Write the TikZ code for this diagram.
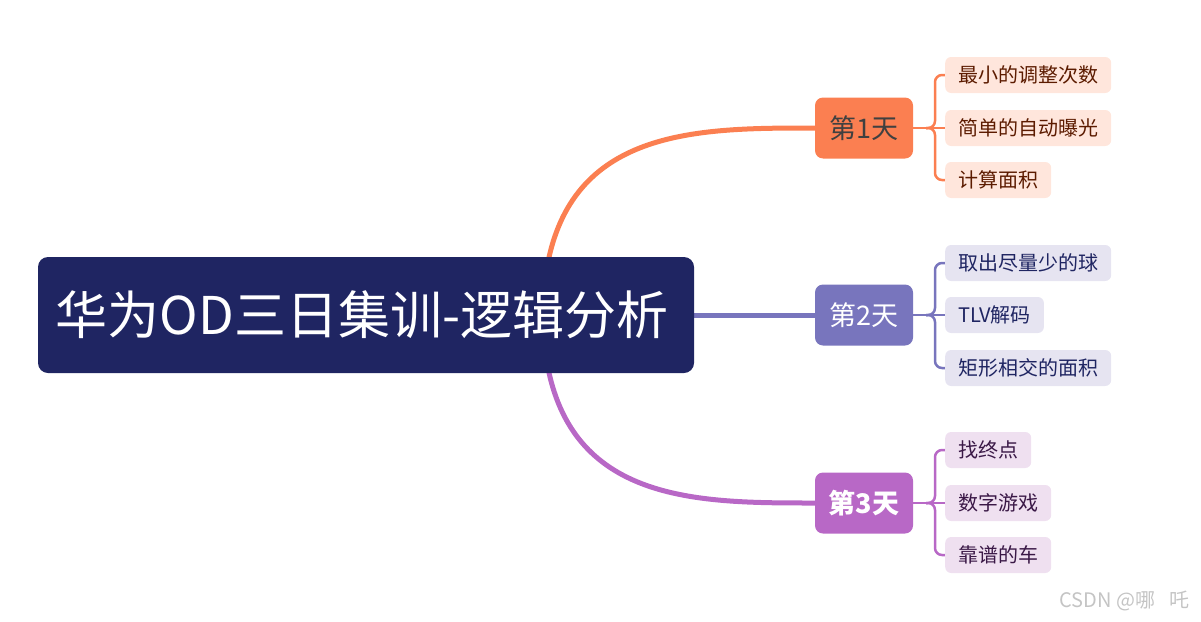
\documentclass[tikz,border=0pt]{standalone}
\usepackage{fontspec}
\setmainfont{Noto Sans CJK SC}
\usetikzlibrary{backgrounds}
\definecolor{rootc}{HTML}{1F2562}
\definecolor{oc}{HTML}{FB7F51}
\definecolor{pc}{HTML}{7875BD}
\definecolor{mc}{HTML}{B868C6}
\definecolor{ol}{HTML}{FFE6DC}
\definecolor{pl}{HTML}{E6E4F1}
\definecolor{ml}{HTML}{EFE0F0}
\definecolor{ot}{HTML}{5C1B00}
\definecolor{pt}{HTML}{1F2562}
\definecolor{mt}{HTML}{3A1846}
\definecolor{wmc}{HTML}{C4C4C4}
\tikzset{
  rootbox/.style={fill=rootc, text=white, rounded corners=10pt, minimum width=656pt, minimum height=116pt, font=\fontsize{52}{56}\selectfont, inner sep=0pt},
  daybox/.style={rounded corners=8pt, minimum width=98pt, minimum height=61pt, font=\fontsize{27}{30}\selectfont, inner sep=0pt},
  leafbox/.style={rounded corners=6pt, minimum height=36pt, inner xsep=13pt, inner ysep=0pt, anchor=west, font=\fontsize{20}{23}\selectfont},
  mainline/.style={line width=5pt},
  subline/.style={line width=2.5pt, rounded corners=7pt},
}
\begin{document}
\begin{tikzpicture}[x=1pt,y=-1pt]
\useasboundingbox (0,0) rectangle (1201,621);
\node[rootbox] (root) at (366,315) {\hspace*{-8pt}华为OD三日集训-逻辑分析};
\node[daybox, fill=oc, text=black!75] (d1) at (864,128) {第1天};
\node[daybox, fill=pc, text=white] (d2) at (864,315) {第2天};
\node[daybox, fill=mc, text=white, font=\fontsize{27}{30}\selectfont\bfseries] (d3) at (864,503) {第3天};
\node[leafbox, fill=ol, text=ot] (a1) at (945,75) {最小的调整次数};
\node[leafbox, fill=ol, text=ot] (a2) at (945,128) {简单的自动曝光};
\node[leafbox, fill=ol, text=ot] (a3) at (945,180) {计算面积};
\node[leafbox, fill=pl, text=pt] (b1) at (945,263) {取出尽量少的球};
\node[leafbox, fill=pl, text=pt] (b2) at (945,315) {TLV解码};
\node[leafbox, fill=pl, text=pt] (b3) at (945,368) {矩形相交的面积};
\node[leafbox, fill=ml, text=mt] (c1) at (945,450) {找终点};
\node[leafbox, fill=ml, text=mt] (c2) at (945,503) {数字游戏};
\node[leafbox, fill=ml, text=mt] (c3) at (945,555) {靠谱的车};
\coordinate (r1) at (548,262);
\coordinate (r3) at (548,368);
\coordinate (j1) at (926,128);
\coordinate (j2) at (926,315);
\coordinate (j3) at (926,503);
\node[text=wmc, anchor=east, font=\fontsize{20}{23}\selectfont] (wm) at (1193,601) {CSDN @哪\hspace{14pt}吒};
\begin{scope}[on background layer]
\draw[mainline, oc] (r1) .. controls (575,128) and (700,128) .. (d1.west);
\draw[mainline, pc] (root.east) -- (d2.west);
\draw[mainline, mc] (r3) .. controls (575,503) and (700,503) .. (d3.west);
\draw[subline, oc] (d1.east) -- (j1);
\draw[subline, oc] (j1) -| (935,75) -- (a1.west);
\draw[subline, oc] (j1) -- (a2.west);
\draw[subline, oc] (j1) -| (935,180) -- (a3.west);
\draw[subline, pc] (d2.east) -- (j2);
\draw[subline, pc] (j2) -| (935,263) -- (b1.west);
\draw[subline, pc] (j2) -- (b2.west);
\draw[subline, pc] (j2) -| (935,368) -- (b3.west);
\draw[subline, mc] (d3.east) -- (j3);
\draw[subline, mc] (j3) -| (935,450) -- (c1.west);
\draw[subline, mc] (j3) -- (c2.west);
\draw[subline, mc] (j3) -| (935,555) -- (c3.west);
\end{scope}
\end{tikzpicture}
\end{document}
